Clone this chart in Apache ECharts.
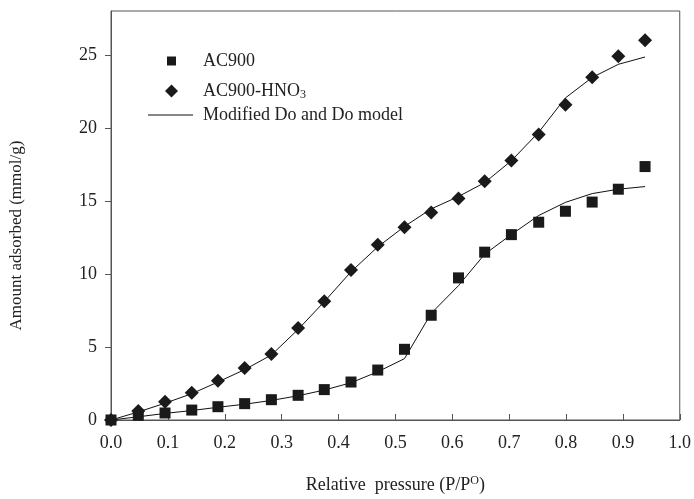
<!DOCTYPE html>
<html>
<head>
<meta charset="utf-8">
<script src="https://cdn.jsdelivr.net/npm/echarts@6/dist/echarts.min.js"></script>
<style>
  html, body { margin: 0; padding: 0; background: #fff; }
  #chart { width: 694px; height: 499px; }
</style>
</head>
<body>
<div id="chart"></div>
<script>
// relative pressure P/P0 for all measured points
const pressure = [0, 0.048, 0.095, 0.142, 0.188, 0.235, 0.282, 0.329, 0.375, 0.422, 0.469,
  0.516, 0.563, 0.611, 0.657, 0.704, 0.752, 0.799, 0.846, 0.892, 0.939];

// measured amounts (mmol/g)
const ac900 = [0, 0.32, 0.48, 0.68, 0.91, 1.12, 1.39, 1.69, 2.08, 2.6, 3.42,
  4.84, 7.17, 9.73, 11.49, 12.69, 13.54, 14.29, 14.92, 15.8, 17.35];
const ac900Hno3 = [0, 0.62, 1.25, 1.87, 2.69, 3.56, 4.52, 6.3, 8.13, 10.27, 11.99,
  13.2, 14.2, 15.16, 16.35, 17.76, 19.54, 21.58, 23.47, 24.91, 26.0];

// modified Do and Do model curves
const fitAc900 = [0, 0.22, 0.45, 0.65, 0.87, 1.08, 1.34, 1.66, 2.05, 2.55, 3.3,
  4.2, 7.3, 9.2, 11.35, 12.7, 14.0, 14.9, 15.5, 15.8, 15.98];
const fitHno3 = [0, 0.55, 1.15, 1.8, 2.6, 3.45, 4.45, 6.2, 8.1, 10.15, 11.85,
  13.25, 14.45, 15.3, 16.25, 17.75, 19.7, 22.05, 23.45, 24.35, 24.85];

const yTicks = [0, 5, 10, 15, 20, 25];

const FONT = 'Liberation Serif';
const TEXT = '#222';
const AXIS = '#555';
const FIT_NAME = 'Modified Do and Do model';

function pairs(ys) {
  return pressure.map((x, i) => [x, ys[i]]);
}

const chart = echarts.init(document.getElementById('chart'));

const legendText = {
  fontFamily: FONT,
  fontSize: 18,
  color: TEXT,
  lineHeight: 20,
};

const option = {
  animation: false,
  backgroundColor: '#fff',
  grid: {
    left: 111,
    right: 13,
    top: 11,
    bottom: 78,
    show: true,
    borderColor: AXIS,
    borderWidth: 1,
  },
  legend: [
    {
      data: ['AC900'],
      left: 167,
      top: 51,
      padding: 0,
      icon: 'rect',
      itemWidth: 9,
      itemHeight: 9,
      textStyle: { ...legendText, padding: [0, 0, 0, 22] },
    },
    {
      data: ['AC900-HNO3'],
      left: 165,
      top: 79,
      padding: 0,
      icon: 'diamond',
      itemWidth: 13,
      itemHeight: 13,
      formatter: () => 'AC900-HNO{sub|3}',
      textStyle: {
        ...legendText,
        padding: [0, 0, 0, 20],
        rich: {
          sub: { fontFamily: FONT, fontSize: 12, color: TEXT, verticalAlign: 'bottom', lineHeight: 12, padding: [10, 0, 0, 0] },
        },
      },
    },
    {
      data: [FIT_NAME],
      left: 148,
      top: 105,
      padding: 0,
      icon: 'rect',
      itemWidth: 45,
      itemHeight: 1,
      textStyle: { ...legendText, padding: [0, 0, 0, 5] },
    },
  ],
  xAxis: {
    type: 'value',
    min: 0,
    max: 1,
    interval: 0.1,
    name: 'Relative  pressure (P/P{sup|O})',
    nameLocation: 'middle',
    nameGap: 55,
    nameTextStyle: {
      fontFamily: FONT,
      fontSize: 18,
      color: TEXT,
      rich: {
        sup: { fontFamily: FONT, fontSize: 12, color: TEXT, verticalAlign: 'top', padding: [0, 0, 8, 0] },
      },
    },
    splitLine: { show: false },
    axisLine: { lineStyle: { color: AXIS, width: 1 } },
    axisTick: { inside: true, length: 6, lineStyle: { color: AXIS } },
    axisLabel: {
      fontFamily: FONT,
      fontSize: 18,
      color: TEXT,
      margin: 14,
      formatter: v => v.toFixed(1),
    },
  },
  yAxis: {
    type: 'value',
    min: 0,
    max: 28,
    interval: 5,
    name: 'Amount adsorbed (mmol/g)',
    nameLocation: 'middle',
    nameGap: 86,
    nameTextStyle: {
      fontFamily: FONT,
      fontSize: 17,
      color: TEXT,
      padding: [0, 40, 0, 0],
    },
    splitLine: { show: false },
    axisLine: { show: true, lineStyle: { color: AXIS, width: 1 } },
    axisTick: { show: true, length: 6, lineStyle: { color: AXIS }, customValues: yTicks },
    axisLabel: {
      fontFamily: FONT,
      fontSize: 18,
      color: TEXT,
      margin: 14,
      customValues: yTicks,
    },
  },
  series: [
    {
      name: FIT_NAME,
      type: 'line',
      data: pairs(fitAc900),
      symbol: 'none',
      lineStyle: { color: '#111', width: 1 },
      itemStyle: { color: '#111' },
      z: 1,
    },
    {
      name: FIT_NAME,
      type: 'line',
      data: pairs(fitHno3),
      symbol: 'none',
      lineStyle: { color: '#111', width: 1 },
      itemStyle: { color: '#111' },
      z: 1,
    },
    {
      name: 'AC900',
      type: 'scatter',
      data: pairs(ac900),
      symbol: 'rect',
      symbolSize: 11,
      itemStyle: { color: '#1a1a1a', opacity: 1 },
      z: 3,
    },
    {
      name: 'AC900-HNO3',
      type: 'scatter',
      data: pairs(ac900Hno3),
      symbol: 'diamond',
      symbolSize: 14,
      itemStyle: { color: '#1a1a1a', opacity: 1 },
      z: 3,
    },
  ],
};

chart.setOption(option);
</script>
</body>
</html>
